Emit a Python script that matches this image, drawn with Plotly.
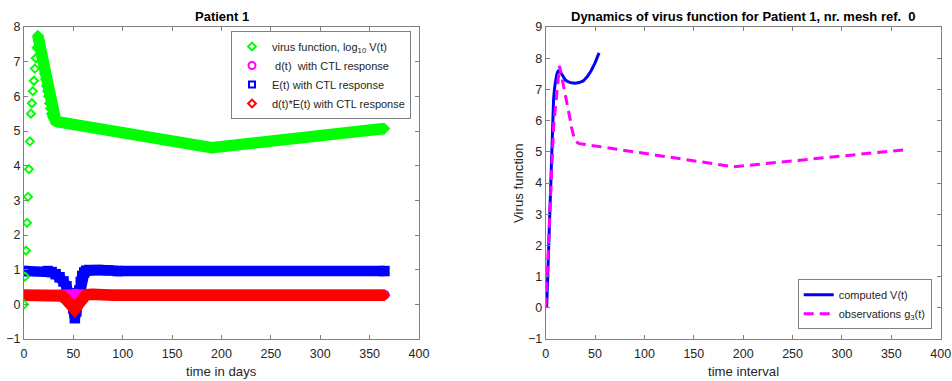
import plotly.graph_objects as go

# ---------------- data ----------------
# observations log10 V(t) (left: green diamonds, right: magenta dashed g3(t))
t_obs = [0, 1, 2, 3, 4, 5, 6, 7, 8, 9, 10, 11, 12, 13, 14, 15, 16, 17, 18, 19, 20,
         21, 22, 23, 24, 25, 26, 27, 28, 29, 30, 31, 32, 33, 35, 190, 365]
g_obs = [0.0, 0.8, 1.55, 2.35, 3.1, 3.9, 4.7, 5.5, 5.8, 6.15, 6.45, 6.8, 7.1, 7.4, 7.75,
         7.6, 7.45, 7.3, 7.15, 7.0, 6.8, 6.65, 6.5, 6.3, 6.15, 6.0, 5.8, 5.65, 5.5,
         5.42, 5.36, 5.32, 5.3, 5.28, 5.26, 4.52, 5.07]

# E(t) with CTL response
t_E = [0, 24, 28, 32, 36, 40, 43, 46, 48, 50, 51.5, 53, 54.5, 56, 57.5, 59, 61, 63,
       66, 75, 85, 95, 365]
E_val = [0.96, 0.96, 0.93, 0.87, 0.78, 0.66, 0.52, 0.32, 0.14, -0.12, -0.4, -0.2, 0.1,
         0.4, 0.65, 0.82, 0.92, 0.97, 0.99, 0.99, 0.98, 0.96, 0.96]

# d(t) with CTL response
t_d = [0, 45, 50, 53, 58, 365]
d_val = [0.28, 0.28, 0.3, 0.3, 0.28, 0.28]

# d(t)*E(t) with CTL response
t_dE = [0, 36, 38, 42, 45, 48, 50, 51.5, 53, 55, 57, 59, 61, 63, 70, 80, 90, 365]
dE_val = [0.26, 0.26, 0.24, 0.16, 0.06, -0.05, -0.11, -0.15, -0.1, 0.0, 0.1, 0.19,
          0.25, 0.28, 0.29, 0.28, 0.26, 0.26]

# computed V(t) (right panel)
t_V = [0, 1, 2, 3, 4, 5, 6, 7, 8, 9, 10, 11, 12, 13, 14, 16, 18, 20, 23, 26, 30, 34,
       38, 42, 46, 50, 54]
V_val = [0.0, 0.05, 0.95, 1.9, 2.75, 3.6, 5.0, 6.1, 6.7, 7.05, 7.3, 7.45, 7.55, 7.6,
         7.6, 7.5, 7.38, 7.3, 7.24, 7.21, 7.2, 7.22, 7.27, 7.4, 7.6, 7.85, 8.17]

x_ticks = [0, 50, 100, 150, 200, 250, 300, 350, 400]
y_ticks_left = [-1, 0, 1, 2, 3, 4, 5, 6, 7, 8]
y_ticks_right = [-1, 0, 1, 2, 3, 4, 5, 6, 7, 8, 9]

legend_names = ["virus function, log<sub>10</sub> V(t)", " d(t)  with CTL response",
                "E(t) with CTL response", "d(t)*E(t) with CTL response"]

GREEN, MAGENTA, BLUE, RED = "#00ff00", "#ff00ff", "#0000ff", "#ff0000"
FONT = "Liberation Sans, Arial, Helvetica, sans-serif"
TXT = "#262626"

fig = go.Figure()


def band(t, v, color, width, sym, size):
    # dense overlapping markers in the original -> thick stroke + filled markers
    fig.add_trace(go.Scatter(x=t, y=v, mode="lines", line=dict(color=color, width=width),
                             showlegend=False, hoverinfo="skip"))
    fig.add_trace(go.Scatter(x=t, y=v, mode="markers", showlegend=False,
                             marker=dict(symbol=sym, size=size, color=color,
                                         line=dict(width=0))))


band(t_E, E_val, BLUE, 10.5, "square", 10.5)
band(t_d, d_val, MAGENTA, 10.5, "circle", 10.5)
band(t_dE, dE_val, RED, 11.5, "diamond", 9)

# green: separate open diamonds on the rise, overlapping band afterwards
i_peak = g_obs.index(max(g_obs))
fig.add_trace(go.Scatter(x=t_obs[i_peak:], y=g_obs[i_peak:], mode="lines",
                         line=dict(color=GREEN, width=11.5), showlegend=False,
                         hoverinfo="skip"))
fig.add_trace(go.Scatter(x=t_obs[i_peak:], y=g_obs[i_peak:], mode="markers",
                         showlegend=False, marker=dict(symbol="diamond", size=9,
                                                       color=GREEN, line=dict(width=0))))
fig.add_trace(go.Scatter(x=t_obs[:i_peak + 1], y=g_obs[:i_peak + 1], mode="markers",
                         showlegend=False,
                         marker=dict(symbol="diamond-open", size=6.2, color=GREEN,
                                     line=dict(width=2))))

# legend entries (open markers as in the original legend)
leg_style = [("diamond-open", 6, GREEN), ("circle-open", 7, MAGENTA),
             ("square-open", 6, BLUE), ("diamond-open", 6, RED)]
for k, (name, (sym, size, col)) in enumerate(zip(legend_names, leg_style)):
    fig.add_trace(go.Scatter(x=[None], y=[None], mode="markers", name=name,
                             marker=dict(symbol=sym, size=size, color=col,
                                         line=dict(width=2)),
                             legend="legend", legendrank=k + 1))

# right panel
fig.add_trace(go.Scatter(x=t_V, y=V_val, mode="lines", name="computed V(t)",
                         xaxis="x2", yaxis="y2", line=dict(color=BLUE, width=3),
                         legend="legend2", legendrank=1))
fig.add_trace(go.Scatter(x=t_obs, y=g_obs, mode="lines", name="observations g<sub>3</sub>(t)",
                         xaxis="x2", yaxis="y2",
                         line=dict(color=MAGENTA, width=3, dash="10px,6px"),
                         legend="legend2", legendrank=2))

W, H = 952, 381


def px_x(p):
    return p / W


def px_y(p):
    return 1 - p / H


axis_common = dict(showline=True, linecolor="#808080", linewidth=1, mirror="ticks",
                   ticks="inside", ticklen=4, tickcolor="#808080", tickwidth=1,
                   showgrid=False, zeroline=False, automargin=False,
                   tickfont=dict(family=FONT, size=12.5, color=TXT))

fig.update_layout(
    width=W, height=H, margin=dict(l=0, r=0, t=0, b=0),
    paper_bgcolor="white", plot_bgcolor="white", template="none",
    font=dict(family=FONT, color=TXT),
    xaxis=dict(domain=[px_x(24), px_x(419)], range=[0, 400], tickvals=x_ticks,
               anchor="y", ticklabelstandoff=3, **axis_common),
    yaxis=dict(domain=[px_y(339), px_y(27)], range=[-1, 8], tickvals=y_ticks_left,
               anchor="x", **axis_common),
    xaxis2=dict(domain=[px_x(545.7), px_x(940.7)], range=[0, 400], tickvals=x_ticks,
                anchor="y2", ticklabelstandoff=3, **axis_common),
    yaxis2=dict(domain=[px_y(339), px_y(27)], range=[-1, 9], tickvals=y_ticks_right,
                anchor="x2", **axis_common),
    legend=dict(x=px_x(231), y=px_y(31), xanchor="left", yanchor="top",
                bgcolor="white", bordercolor="#808080", borderwidth=1,
                font=dict(family=FONT, size=11, color=TXT), traceorder="normal"),
    legend2=dict(x=px_x(931.7), y=px_y(329.3), xanchor="right", yanchor="bottom",
                 bgcolor="white", bordercolor="#808080", borderwidth=1,
                 font=dict(family=FONT, size=11, color=TXT), traceorder="normal"),
    annotations=[
        dict(text="<b>Patient 1</b>", x=px_x(221.5), y=px_y(16.7), xref="paper",
             yref="paper", showarrow=False, xanchor="center", yanchor="middle",
             font=dict(family=FONT, size=13, color="black")),
        dict(text="<b>Dynamics of virus function for Patient 1, nr. mesh ref.  0</b>",
             x=px_x(743.2), y=px_y(16.7), xref="paper", yref="paper", showarrow=False,
             xanchor="center", yanchor="middle",
             font=dict(family=FONT, size=13, color="black")),
        dict(text="time in days", x=px_x(221.5), y=px_y(371), xref="paper",
             yref="paper", showarrow=False, xanchor="center", yanchor="middle",
             font=dict(family=FONT, size=13.2, color=TXT)),
        dict(text="time interval", x=px_x(743.2), y=px_y(371.5), xref="paper",
             yref="paper", showarrow=False, xanchor="center", yanchor="middle",
             font=dict(family=FONT, size=13.2, color=TXT)),
        dict(text="Virus function", x=px_x(518), y=px_y(183), xref="paper",
             yref="paper", showarrow=False, xanchor="center", yanchor="middle",
             textangle=-90, font=dict(family=FONT, size=13.2, color=TXT)),
    ],
)

fig.write_html("out.html")
